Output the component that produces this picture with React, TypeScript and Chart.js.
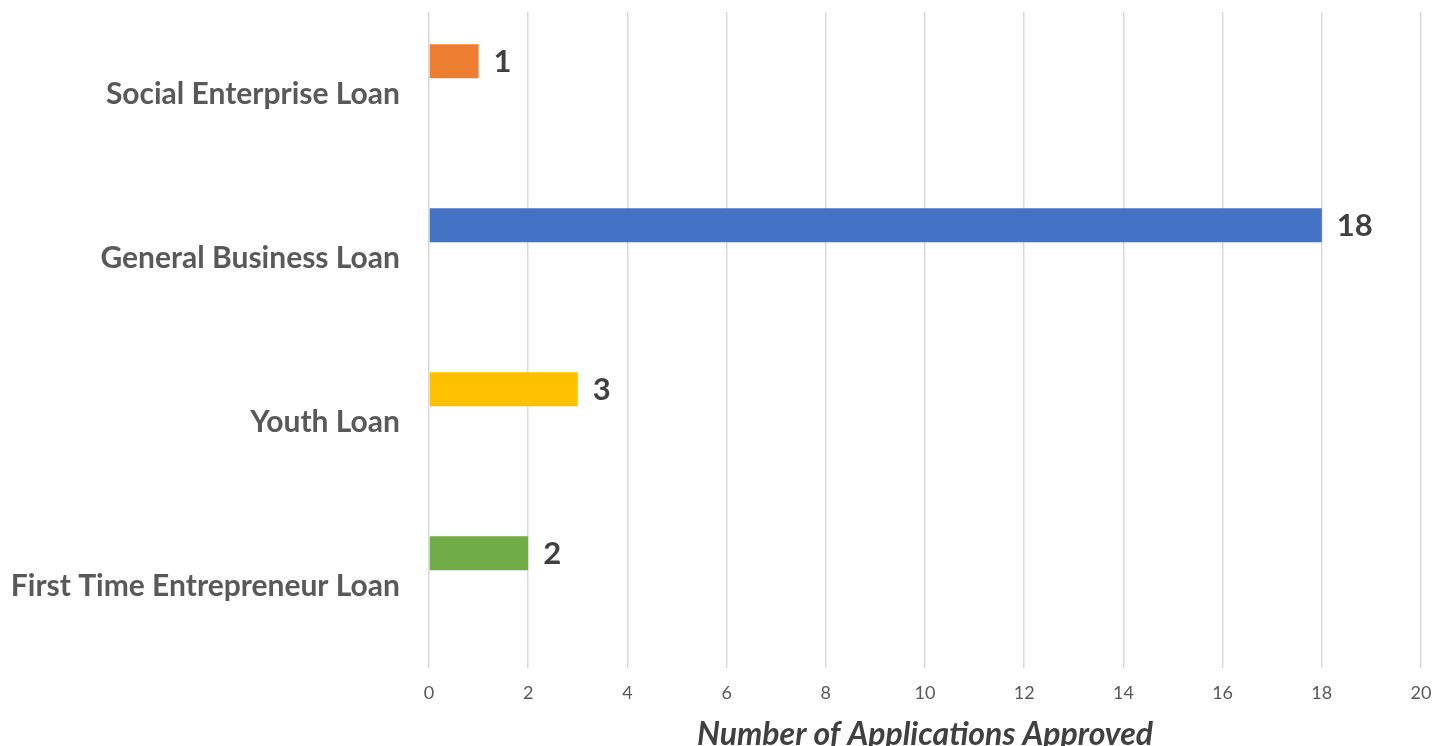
import React, { useEffect, useRef } from "react";
import { Chart, registerables } from "chart.js";

Chart.register(...registerables);

const categories = [
  "Social Enterprise Loan",
  "General Business Loan",
  "Youth Loan",
  "First Time Entrepreneur Loan",
];
const approved = [1, 18, 3, 2];
const barColors = ["#ED7D31", "#4472C4", "#FFC000", "#70AD47"];
const xTitle = "Number of Applications Approved";

const FONT = "Lato, 'Open Sans', sans-serif";

const valueLabels = {
  id: "valueLabels",
  afterDatasetsDraw(chart: any) {
    const ctx = chart.ctx;
    const meta = chart.getDatasetMeta(0);
    ctx.save();
    ctx.font = `bold 31px ${FONT}`;
    ctx.fillStyle = "#404040";
    ctx.textAlign = "left";
    ctx.textBaseline = "middle";
    meta.data.forEach((el: any, i: number) => {
      const v = chart.data.datasets[0].data[i];
      if (v == null) return;
      ctx.fillText(String(v), el.x + 15, el.y + 1);
    });
    ctx.restore();
  },
};

export default function App() {
  const ref = useRef<HTMLCanvasElement>(null);
  useEffect(() => {
    document.body.style.margin = "0";
    document.body.style.overflow = "hidden";
    if (!ref.current) return;
    const chart = new Chart(ref.current, {
      type: "bar",
      data: {
        labels: categories,
        datasets: [
          {
            data: approved,
            backgroundColor: barColors,
            categoryPercentage: 0.8,
            barPercentage: 0.518,
          },
          {
            data: categories.map(() => null),
            backgroundColor: "transparent",
            categoryPercentage: 0.8,
            barPercentage: 0.518,
          },
        ],
      },
      options: {
        indexAxis: "y",
        animation: false,
        responsive: false,
        maintainAspectRatio: false,
        layout: { padding: { top: 4, right: 13, left: 0, bottom: 0 } },
        plugins: {
          legend: { display: false },
          tooltip: { enabled: false },
        },
        scales: {
          x: {
            min: 0,
            max: 20,
            ticks: {
              stepSize: 2,
              color: "#595959",
              font: { family: FONT, size: 18 },
              padding: 14,
            },
            grid: {
              color: "#d9d9d9",
              lineWidth: 1.5,
              drawTicks: false,
            },
            border: { display: false },
            title: {
              display: true,
              text: xTitle,
              color: "#404040",
              font: { family: FONT, size: 32, weight: "bold", style: "italic" },
              padding: { top: 0, bottom: 4 },
            },
            afterFit(scale: any) {
              scale.height = 90;
              scale.paddingLeft = 0;
              scale.paddingRight = 0;
              scale.paddingTop = 0;
              scale.paddingBottom = 0;
            },
          },
          y: {
            ticks: {
              color: "#595959",
              font: { family: FONT, size: 30, weight: "bold" },
              padding: 29,
            },
            grid: { display: false, drawTicks: false },
            border: { display: false },
            afterFit(scale: any) {
              scale.width = 421;
              scale.paddingLeft = 0;
              scale.paddingRight = 0;
              scale.paddingTop = 0;
              scale.paddingBottom = 0;
            },
          },
        },
      },
      plugins: [valueLabels],
    });
    return () => chart.destroy();
  }, []);
  return (
    <div
      style={{
        width: 1434,
        height: 746,
        paddingLeft: 8,
        paddingTop: 8,
        boxSizing: "border-box",
        overflow: "hidden",
        position: "relative",
        background: "#ffffff",
      }}
    >
      <canvas ref={ref} width={1426} height={750} style={{ display: "block" }} />
    </div>
  );
}
